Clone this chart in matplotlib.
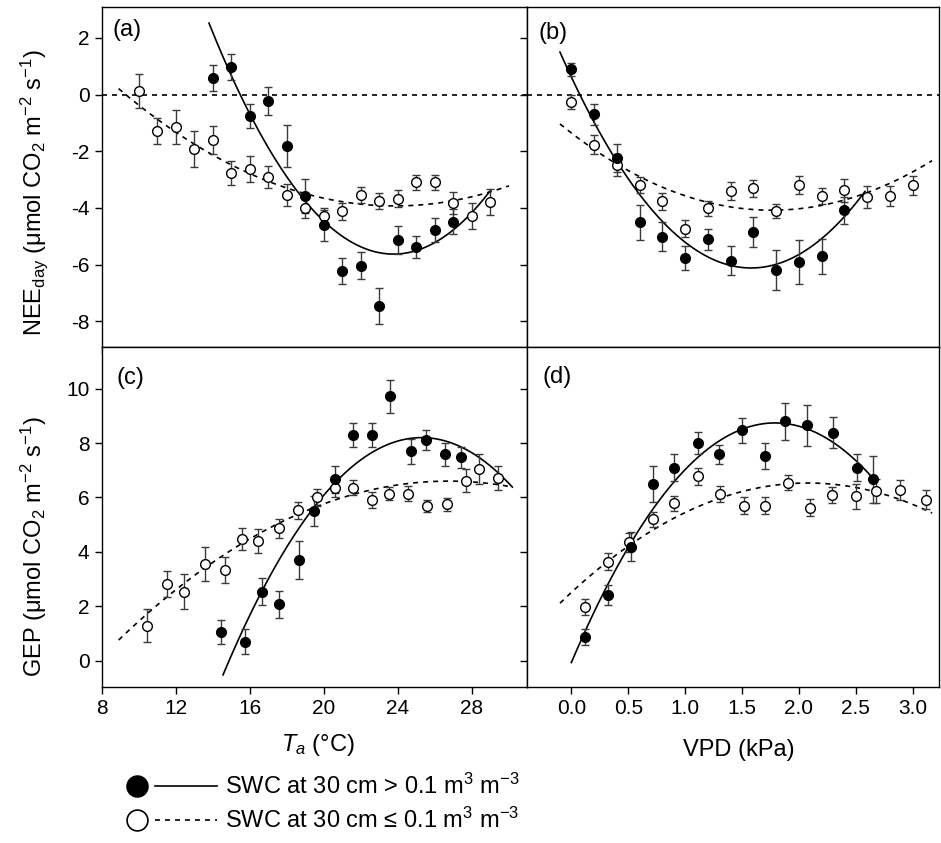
import numpy as np
import matplotlib.pyplot as plt
from matplotlib.lines import Line2D

plt.rcParams['font.family'] = ['Liberation Sans', 'DejaVu Sans']
plt.rcParams['mathtext.fontset'] = 'custom'
plt.rcParams['mathtext.rm'] = 'Liberation Sans'
plt.rcParams['mathtext.it'] = 'Liberation Sans:italic'
plt.rcParams['axes.unicode_minus'] = False

## (a) NEE vs Ta
ta_wet_a = [14, 15, 16, 17, 18, 19, 20, 21, 22, 23, 24, 25, 26, 27]
nee_wet_a = [0.59, 0.96, -0.76, -0.23, -1.81, -3.58, -4.61, -6.22, -6.04, -7.46, -5.13, -5.38, -4.78, -4.49]
nee_wet_a_err = [0.45, 0.46, 0.43, 0.5, 0.74, 0.6, 0.55, 0.46, 0.47, 0.62, 0.49, 0.38, 0.44, 0.44]
ta_dry_a = [10, 11, 12, 13, 14, 15, 16, 17, 18, 19, 20, 21, 22, 23, 24, 25, 26, 27, 28, 29]
nee_dry_a = [0.13, -1.30, -1.13, -1.92, -1.60, -2.76, -2.61, -2.90, -3.54, -4.02,
             -4.27, -4.11, -3.54, -3.76, -3.67, -3.10, -3.10, -3.84, -4.28, -3.78]
nee_dry_a_err = [0.59, 0.46, 0.6, 0.64, 0.49, 0.43, 0.46, 0.39, 0.39, 0.34,
                 0.28, 0.3, 0.27, 0.28, 0.3, 0.27, 0.27, 0.39, 0.47, 0.46]

## (b) NEE vs VPD
vpd_wet_b = [0.0, 0.2, 0.4, 0.6, 0.8, 1.0, 1.2, 1.4, 1.6, 1.8, 2.0, 2.2, 2.4]
nee_wet_b = [0.89, -0.69, -2.24, -4.50, -5.01, -5.77, -5.11, -5.86, -4.85, -6.18, -5.92, -5.71, -4.09]
nee_wet_b_err = [0.24, 0.37, 0.5, 0.62, 0.5, 0.43, 0.36, 0.52, 0.52, 0.71, 0.78, 0.62, 0.46]
vpd_dry_b = [0.0, 0.2, 0.4, 0.6, 0.8, 1.0, 1.2, 1.4, 1.6, 1.8, 2.0, 2.2, 2.4, 2.6, 2.8, 3.0]
nee_dry_b = [-0.26, -1.77, -2.49, -3.20, -3.76, -4.73, -4.02, -3.40, -3.31, -4.11,
             -3.20, -3.58, -3.38, -3.61, -3.58, -3.20]
nee_dry_b_err = [0.24, 0.33, 0.39, 0.28, 0.3, 0.31, 0.28, 0.31, 0.3, 0.25,
                 0.31, 0.28, 0.41, 0.38, 0.36, 0.34]

## (c) GEP vs Ta
ta_wet_c = [14.46, 15.73, 16.64, 17.59, 18.65, 19.47, 20.62, 21.6, 22.62, 23.6, 24.7, 25.53, 26.54, 27.43]
gep_wet_c = [1.06, 0.70, 2.53, 2.07, 3.70, 5.50, 6.66, 8.29, 8.29, 9.72, 7.70, 8.10, 7.58, 7.47]
gep_wet_c_err = [0.44, 0.45, 0.49, 0.5, 0.69, 0.55, 0.49, 0.43, 0.44, 0.6, 0.46, 0.37, 0.43, 0.4]
ta_dry_c = [10.42, 11.51, 12.42, 13.58, 14.68, 15.55, 16.46, 17.56, 18.59, 19.61,
            20.6, 21.6, 22.6, 23.51, 24.57, 25.6, 26.66, 27.7, 28.43, 29.45]
gep_dry_c = [1.29, 2.82, 2.53, 3.54, 3.33, 4.47, 4.39, 4.86, 5.53, 6.00,
             6.33, 6.36, 5.90, 6.14, 6.14, 5.68, 5.75, 6.61, 7.04, 6.70]
gep_dry_c_err = [0.61, 0.47, 0.65, 0.63, 0.48, 0.4, 0.45, 0.36, 0.31, 0.31,
                 0.31, 0.28, 0.29, 0.25, 0.27, 0.23, 0.24, 0.42, 0.56, 0.44]

## (d) GEP vs VPD
vpd_wet_d = [0.12, 0.32, 0.52, 0.72, 0.9, 1.11, 1.3, 1.5, 1.7, 1.88, 2.07, 2.3, 2.51, 2.65]
gep_wet_d = [0.88, 2.41, 4.19, 6.49, 7.09, 8.00, 7.58, 8.47, 7.52, 8.80, 8.65, 8.37, 7.09, 6.66]
gep_wet_d_err = [0.29, 0.37, 0.53, 0.66, 0.5, 0.4, 0.35, 0.46, 0.49, 0.69, 0.75, 0.57, 0.49, 0.87]
vpd_dry_d = [0.12, 0.32, 0.51, 0.72, 0.9, 1.11, 1.31, 1.52, 1.7, 1.9, 2.1, 2.29, 2.5, 2.68, 2.89, 3.12]
gep_dry_d = [1.98, 3.64, 4.35, 5.19, 5.78, 6.78, 6.14, 5.69, 5.69, 6.54,
             5.62, 6.08, 6.05, 6.24, 6.27, 5.92]
gep_dry_d_err = [0.29, 0.31, 0.35, 0.29, 0.27, 0.31, 0.29, 0.31, 0.31, 0.28,
                 0.32, 0.3, 0.46, 0.43, 0.37, 0.34]

## quadratic fits: [curvature, x of vertex, y of vertex], x range
fit_wet_a, rng_wet_a = [0.0817, 23.78, -5.63], [13.79, 29.03]
fit_dry_a, rng_dry_a = [0.01855, 23.84, -3.93], [8.9, 30.03]
fit_wet_b, rng_wet_b = [2.7, 1.58, -6.12], [-0.1, 2.58]
fit_dry_b, rng_dry_b = [0.88, 1.76, -4.08], [-0.1, 3.17]
fit_wet_c, rng_wet_c = [-0.0755, 25.3, 8.2], [14.55, 30.21]
fit_dry_c, rng_dry_c = [-0.0183, 26.77, 6.6], [8.9, 30.21]
fit_wet_d, rng_wet_d = [-2.75, 1.79, 8.74], [0.0, 2.67]
fit_dry_d, rng_dry_d = [-0.93, 2.08, 6.53], [-0.1, 3.17]

ta_ticks = [8, 12, 16, 20, 24, 28]
vpd_ticks = [0.0, 0.5, 1.0, 1.5, 2.0, 2.5, 3.0]
nee_ticks = [-8, -6, -4, -2, 0, 2]
gep_ticks = [0, 2, 4, 6, 8, 10]

DASH = (0, (3, 3))


def fit_curve(ax, fit, rng, ls):
    a, h, k = fit
    x = np.linspace(rng[0], rng[1], 200)
    ax.plot(x, a * (x - h) ** 2 + k, color='k', lw=1.2, ls=ls, zorder=1)


def points(ax, x, y, err, face):
    ax.errorbar(x, y, yerr=err, fmt='o', ms=7, mfc=face, mec='k', mew=1,
                ecolor='#3a3a3a', elinewidth=1, capsize=2.6, capthick=1, zorder=3)


fig = plt.figure(figsize=(9.41, 8.43), dpi=100)
axa = fig.add_axes([0.1084, 0.588, 0.4516, 0.4033])
axb = fig.add_axes([0.5600, 0.588, 0.4378, 0.4033])
axc = fig.add_axes([0.1084, 0.1854, 0.4516, 0.4026])
axd = fig.add_axes([0.5600, 0.1854, 0.4378, 0.4026])

for ax in (axa, axb):
    ax.axhline(0, color='k', lw=1.2, ls=DASH, zorder=1)

fit_curve(axa, fit_wet_a, rng_wet_a, '-')
fit_curve(axa, fit_dry_a, rng_dry_a, DASH)
points(axa, ta_dry_a, nee_dry_a, nee_dry_a_err, 'white')
points(axa, ta_wet_a, nee_wet_a, nee_wet_a_err, 'k')

fit_curve(axb, fit_wet_b, rng_wet_b, '-')
fit_curve(axb, fit_dry_b, rng_dry_b, DASH)
points(axb, vpd_dry_b, nee_dry_b, nee_dry_b_err, 'white')
points(axb, vpd_wet_b, nee_wet_b, nee_wet_b_err, 'k')

fit_curve(axc, fit_wet_c, rng_wet_c, '-')
fit_curve(axc, fit_dry_c, rng_dry_c, DASH)
points(axc, ta_dry_c, gep_dry_c, gep_dry_c_err, 'white')
points(axc, ta_wet_c, gep_wet_c, gep_wet_c_err, 'k')

fit_curve(axd, fit_wet_d, rng_wet_d, '-')
fit_curve(axd, fit_dry_d, rng_dry_d, DASH)
points(axd, vpd_dry_d, gep_dry_d, gep_dry_d_err, 'white')
points(axd, vpd_wet_d, gep_wet_d, gep_wet_d_err, 'k')

for ax in (axa, axc):
    ax.set_xlim(8, 31)
    ax.set_xticks(ta_ticks)
for ax in (axb, axd):
    ax.set_xlim(-0.39, 3.23)
    ax.set_xticks(vpd_ticks)
    ax.set_xticklabels(['%.1f' % v for v in vpd_ticks])
for ax in (axa, axb):
    ax.set_ylim(-8.92, 3.08)
    ax.set_yticks(nee_ticks)
    ax.tick_params(labelbottom=False)
for ax in (axc, axd):
    ax.set_ylim(-0.96, 11.52)
    ax.set_yticks(gep_ticks)
for ax in (axb, axd):
    ax.tick_params(labelleft=False)

for ax, lab, (px, py) in zip((axa, axb, axc, axd), ['(a)', '(b)', '(c)', '(d)'],
                             [(0.024, 0.933), (0.027, 0.925), (0.035, 0.91), (0.038, 0.913)]):
    ax.tick_params(direction='out', length=5, width=1, labelsize=15, pad=4)
    for s in ax.spines.values():
        s.set_linewidth(1)
    ax.text(px, py, lab, transform=ax.transAxes, fontsize=17, ha='left', va='center')

fig.text(0.036, 0.772, r'NEE$_{\rm day}$ ($\mathrm{\mu}$mol CO$_2$ m$^{-2}$ s$^{-1}$)',
         rotation=90, ha='center', va='center', fontsize=17)
fig.text(0.036, 0.352, r'GEP ($\mathrm{\mu}$mol CO$_2$ m$^{-2}$ s$^{-1}$)',
         rotation=90, ha='center', va='center', fontsize=17)
fig.text(0.338, 0.116, r'$T_a$ ($\degree$C)', ha='center', va='center', fontsize=17)
fig.text(0.785, 0.110, 'VPD (kPa)', ha='center', va='center', fontsize=17)

# legend drawn by hand under the left panels
rows = [(0.0676, 'k', '-', r'SWC at 30 cm > 0.1 m$^3$ m$^{-3}$'),
        (0.0273, 'white', DASH, 'SWC at 30 cm \u2264 0.1 m$^3$ m$^{-3}$')]
for y, face, ls, txt in rows:
    fig.add_artist(Line2D([0.1456], [y], marker='o', ms=15, mfc=face, mec='k', mew=1.2,
                          transform=fig.transFigure))
    fig.add_artist(Line2D([0.1647, 0.2306], [y, y], color='k', lw=1.2, ls=ls,
                          transform=fig.transFigure))
    fig.text(0.2391, y, txt, ha='left', va='center', fontsize=17)

fig.savefig('out.png', dpi=100)
